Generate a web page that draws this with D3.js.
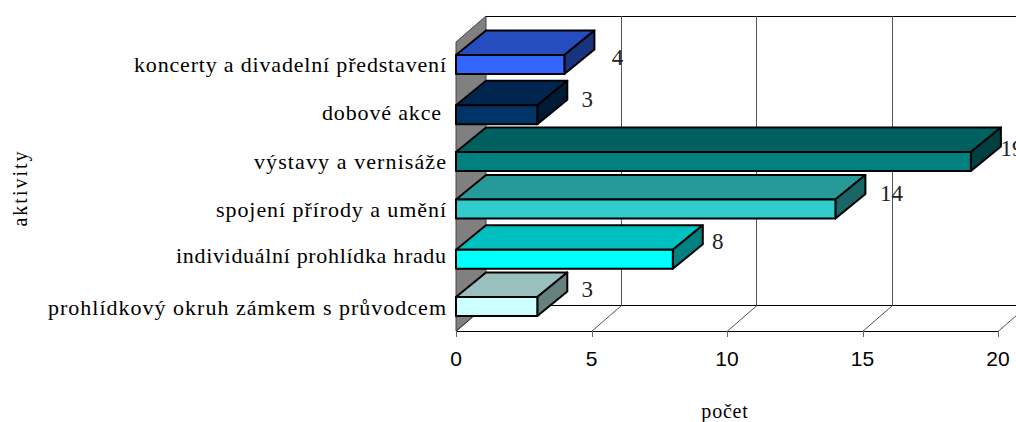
<!DOCTYPE html>
<html><head><meta charset="utf-8">
<script src="https://cdnjs.cloudflare.com/ajax/libs/d3/7.8.5/d3.min.js"></script>
<style>html,body{margin:0;padding:0;background:#fff;overflow:hidden}svg{display:block}</style>
</head><body><svg id="c" width="1016" height="422"></svg>
<script>
const categories=["koncerty a divadelní představení","dobové akce ","výstavy a vernisáže","spojení přírody a umění","individuální prohlídka hradu","prohlídkový okruh zámkem s průvodcem"];
const values=[4,3,19,14,8,3];
const frontColors=["#3366FF","#003366","#008080","#33CCCC","#00FFFF","#CCFFFF"];
const topColors=["#264DBF","#002650","#006060","#269999","#00BFBF","#99BFBF"];
const sideColors=["#1A3380","#001A33","#004040","#1A6666","#008080","#668080"];
const xTicks=[0,5,10,15,20];

const labelWidths=[312,119,192,230,270,398];
const labelRight=[446,441,446,446,446,446];
const labelBase=[7.5,5.5,7.5,8,4,9];
const nudge=[-1.5,0.5,-1,-1.5,0.5,-0.5];
const labelDx=[23,20,11,26,15,20];
const labelDy=[-7.5,-15.5,-13.5,-16,-18,-17];
const DX=30,DY=-24.5,BH=19;
const floorY=331,topY=42;

const svg=d3.select("#c");
const x=d3.scaleLinear().domain([0,20]).range([456,998]);
const y=d3.scaleBand().domain(categories).range([topY,floorY]);
const pts=a=>a.map(p=>p.join(",")).join(" ");
const serif="'Liberation Serif','Times New Roman',serif";
const sans="'Liberation Sans',Arial,sans-serif";

// wall
svg.append("polygon").attr("points",pts([[x(0),topY],[x(0)+DX,topY-26],[x(0)+DX,floorY-26],[x(0),floorY]]))
  .attr("fill","#808080").attr("stroke","#444").attr("stroke-width",1);
// back top and floor lines
svg.append("line").attr("x1",x(0)+DX).attr("x2",1016).attr("y1",16.5).attr("y2",16.5).attr("stroke","#000").attr("stroke-width",1);
svg.append("line").attr("x1",x(0)+DX).attr("x2",1016).attr("y1",305.5).attr("y2",305.5).attr("stroke","#000").attr("stroke-width",1);
svg.append("line").attr("x1",x(0)).attr("x2",x(20)+.5).attr("y1",331.5).attr("y2",331.5).attr("stroke","#000").attr("stroke-width",1);
// gridlines
const t=svg.append("g");
xTicks.slice(1).forEach(v=>{
  t.append("line").attr("x1",Math.round(x(v)+DX)-.5).attr("x2",Math.round(x(v)+DX)-.5).attr("y1",16).attr("y2",305.5).attr("stroke","#555").attr("stroke-width",1);
});
xTicks.forEach(v=>{
  t.append("line").attr("x1",x(v)).attr("x2",x(v)+DX).attr("y1",331.5).attr("y2",305.5).attr("stroke","#222").attr("stroke-width",.8);
  t.append("line").attr("x1",Math.round(x(v))+.5).attr("x2",Math.round(x(v))+.5).attr("y1",331).attr("y2",337).attr("stroke","#666").attr("stroke-width",1);
  t.append("text").attr("x",x(v)).attr("y",366).attr("text-anchor","middle").attr("font-family",sans).attr("font-size",21).attr("fill","#000").text(v);
});
// bars
categories.forEach((c,i)=>{
  const v=values[i],mid=y(c)+y.bandwidth()/2+nudge[i],y0=mid-BH/2,x0=x(0),x1=x(v);
  const g=svg.append("g").attr("stroke","#000").attr("stroke-width",2).attr("stroke-linejoin","round");
  g.append("polygon").attr("points",pts([[x0,y0],[x0+DX,y0+DY],[x1+DX,y0+DY],[x1,y0]])).attr("fill",topColors[i]);
  g.append("polygon").attr("points",pts([[x1,y0],[x1+DX,y0+DY],[x1+DX,y0+DY+BH],[x1,y0+BH]])).attr("fill",sideColors[i]);
  g.append("rect").attr("x",x0).attr("y",y0).attr("width",x1-x0).attr("height",BH).attr("fill",frontColors[i]);
  svg.append("text").attr("x",x1+DX+labelDx[i]).attr("y",mid+labelDy[i]+8).attr("text-anchor","middle")
    .attr("font-family",serif).attr("font-size",23).attr("fill","#222").text(v);
  svg.append("text").attr("x",labelRight[i]).attr("y",mid+labelBase[i]).attr("text-anchor","end")
    .attr("font-family",serif).attr("font-size",22).attr("fill","#000")
    .attr("textLength",labelWidths[i]).attr("lengthAdjust","spacing").text(c.trim());
});
// axis titles
svg.append("text").attr("x",725).attr("y",418).attr("text-anchor","middle").attr("font-family",serif).attr("font-size",20).attr("letter-spacing",0.8).text("počet");
svg.append("text").attr("transform","translate(27,188) rotate(-90)").attr("text-anchor","middle").attr("font-family",serif).attr("font-size",20).attr("letter-spacing",2).text("aktivity");
</script></body></html>
